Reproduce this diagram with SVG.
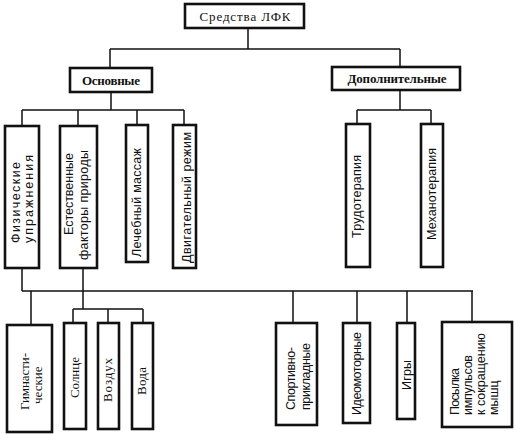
<svg xmlns="http://www.w3.org/2000/svg" width="515" height="435" viewBox="0 0 515 435">
<style>
.box{fill:#fff;stroke:#111;stroke-width:2.6}
.ln{fill:none;stroke:#111;stroke-width:1.5}
.sf{font-family:"Liberation Serif","DejaVu Serif",serif;font-size:13px;fill:#111}
.ss{font-family:"Liberation Sans","DejaVu Sans",sans-serif;font-size:12.5px;fill:#111}
.b{font-weight:bold}
</style>
<rect width="515" height="435" fill="#fff"/>
<g id="connectors">
<path class="ln" d="M248 28V49M110 49H400M110 49V68M400 49V67"/>
<path class="ln" d="M111 92V110M22 110H184M22 110V126M78 110V126M137 110V125M184 110V125"/>
<path class="ln" d="M400 90V110M357 110H431M357 110V124M431 110V124"/>
<path class="ln" d="M22 268V291M22 291H473M31 291V325M293 291V323M357 291V323M407 291V323M472 291V322"/>
<path class="ln" d="M83 268V309M73 309H143M73 309V323M108 309V323M143 309V323"/>
</g>
<g id="n-root"><rect class="box" x="185" y="4" width="119" height="24"/><text class="sf" x="245" y="21" text-anchor="middle" textLength="91" lengthAdjust="spacing">Средства ЛФК</text></g>
<g id="n-osn"><rect class="box" x="70" y="68" width="82" height="24"/><text class="sf b" x="111" y="85" text-anchor="middle" textLength="58" lengthAdjust="spacing">Основные</text></g>
<g id="n-dop"><rect class="box" x="332" y="67" width="128" height="23"/><text class="sf b" x="397" y="83" text-anchor="middle" textLength="99" lengthAdjust="spacing">Дополнительные</text></g>

<g id="n-fiz"><rect class="box" x="5" y="126" width="34" height="142"/>
<text class="ss" transform="translate(20,243) rotate(-90)" textLength="81" lengthAdjust="spacing">Физические</text>
<text class="ss" transform="translate(33,243) rotate(-90)" textLength="88" lengthAdjust="spacing">упражнения</text></g>
<g id="n-est"><rect class="box" x="60" y="126" width="37" height="142"/>
<text class="ss" transform="translate(73,235) rotate(-90)" textLength="82" lengthAdjust="spacing">Естественные</text>
<text class="ss" transform="translate(88,260) rotate(-90)" textLength="110" lengthAdjust="spacing">факторы природы</text></g>
<g id="n-mas"><rect class="box" x="126" y="125" width="22" height="137"/>
<text class="ss" transform="translate(141,257) rotate(-90)" textLength="109" lengthAdjust="spacing">Лечебный массаж</text></g>
<g id="n-dvig"><rect class="box" x="173" y="125" width="23" height="143"/>
<text class="ss" transform="translate(191,263) rotate(-90)" textLength="131" lengthAdjust="spacing">Двигательный режим</text></g>
<g id="n-trud"><rect class="box" x="346" y="124" width="24" height="143"/>
<text class="ss" transform="translate(361,238) rotate(-90)" textLength="83" lengthAdjust="spacing">Трудотерапия</text></g>
<g id="n-meh"><rect class="box" x="421" y="124" width="22" height="143"/>
<text class="ss" transform="translate(436,240) rotate(-90)" textLength="92" lengthAdjust="spacing">Механотерапия</text></g>

<g id="n-gim"><rect class="box" x="7" y="325" width="45" height="107"/>
<text class="sf" transform="translate(29,410) rotate(-90)" textLength="57" lengthAdjust="spacing">Гимнасти-</text>
<text class="sf" transform="translate(42,404) rotate(-90)">ческие</text></g>
<g id="n-sol"><rect class="box" x="64" y="323" width="22" height="106"/>
<text class="sf" transform="translate(79,398) rotate(-90)" textLength="41" lengthAdjust="spacing">Солнце</text></g>
<g id="n-voz"><rect class="box" x="98" y="323" width="21" height="106"/>
<text class="sf" transform="translate(112,402) rotate(-90)" textLength="44" lengthAdjust="spacing">Воздух</text></g>
<g id="n-vod"><rect class="box" x="132" y="323" width="21" height="106"/>
<text class="sf" transform="translate(146,395) rotate(-90)" textLength="28" lengthAdjust="spacing">Вода</text></g>

<g id="n-sport"><rect class="box" x="276" y="323" width="41" height="102"/>
<text class="ss" transform="translate(295,410) rotate(-90)" textLength="63" lengthAdjust="spacing">Спортивно-</text>
<text class="ss" transform="translate(310,410) rotate(-90)" textLength="67" lengthAdjust="spacing">прикладные</text></g>
<g id="n-ideo"><rect class="box" x="343" y="323" width="27" height="100"/>
<text class="ss" transform="translate(361,415) rotate(-90)" textLength="83" lengthAdjust="spacing">Идеомоторные</text></g>
<g id="n-igry"><rect class="box" x="397" y="323" width="18" height="96"/>
<text class="ss" transform="translate(411,390) rotate(-90)" textLength="30" lengthAdjust="spacing">Игры</text></g>
<g id="n-pos"><rect class="box" x="442" y="322" width="70" height="105"/>
<text class="ss" transform="translate(459,415) rotate(-90)" textLength="47" lengthAdjust="spacing">Посылка</text>
<text class="ss" transform="translate(472,415) rotate(-90)" textLength="60" lengthAdjust="spacing">импульсов</text>
<text class="ss" transform="translate(485,415) rotate(-90)" textLength="82" lengthAdjust="spacing">к сокращению</text>
<text class="ss" transform="translate(498,415) rotate(-90)">мышц</text></g>
</svg>
